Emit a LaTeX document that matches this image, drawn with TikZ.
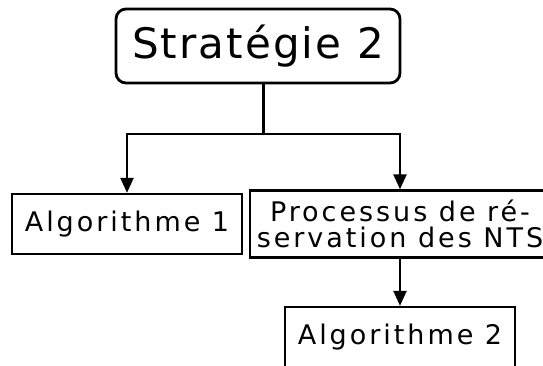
\documentclass[tikz,border=0pt]{standalone}
\usepackage{fontspec}
\setmainfont{DejaVu Sans}
\newfontfamily\bigfont{DejaVu Sans}[LetterSpace=5]
\newfontfamily\smallfont{DejaVu Sans}[LetterSpace=11]
\usetikzlibrary{arrows.meta}
\tikzset{
  titlebox/.style={draw, rounded corners=10pt, line width=2.8pt, minimum width=284pt, minimum height=74pt, inner sep=0pt, font=\bigfont\fontsize{42}{42}\selectfont},
  leafbox/.style={draw, line width=2.4pt, minimum width=230pt, minimum height=60pt, inner sep=0pt, font=\smallfont\fontsize{27}{27}\selectfont},
  procbox/.style={draw, line width=2.4pt, minimum width=300pt, minimum height=67pt, inner sep=0pt, align=center, font=\smallfont\fontsize{27}{26}\selectfont},
  conn/.style={line width=2.4pt},
  arr/.style={line width=2.4pt, -{Triangle[length=15pt, width=13pt]}}
}
\begin{document}
\begin{tikzpicture}[x=1pt, y=-1pt]
\useasboundingbox (0,0) rectangle (543,365);
\node[titlebox] (top) at (258,46) {Stratégie 2};
\node[leafbox] (a1) at (127,224) {Algorithme 1};
\node[procbox] (proc) at (400,224) {Processus de ré-\\servation des NTS};
\node[leafbox] (a2) at (400,337) {Algorithme 2};
\coordinate (j) at (263.5,134);
\draw[conn] (top.south -| j) -- (j);
\draw[arr] (j) -| (a1.north);
\draw[arr] (j) -| (proc.north);
\draw[arr] (proc.south) -- (a2.north);
\end{tikzpicture}
\end{document}
